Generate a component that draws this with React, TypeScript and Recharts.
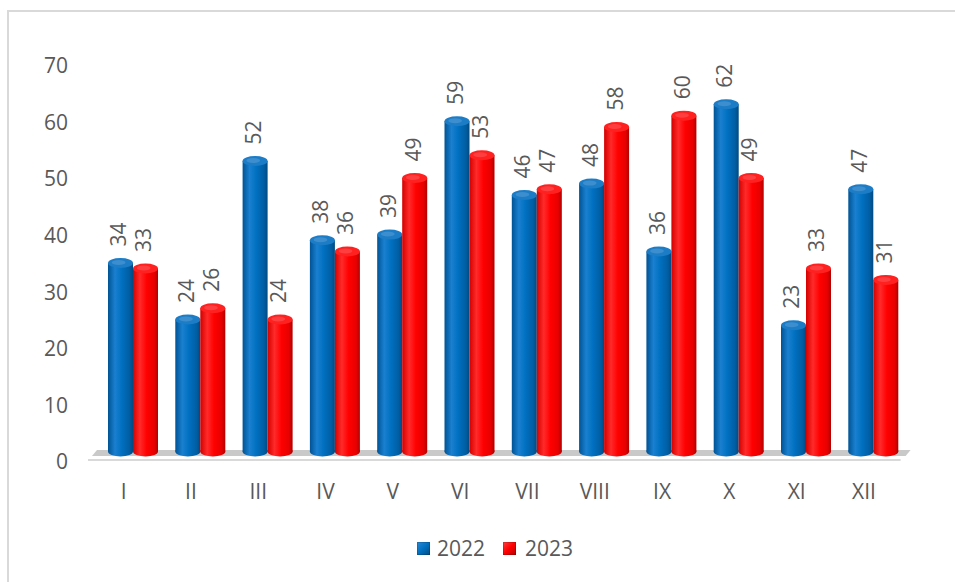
import React from "react";
import { BarChart, Bar, XAxis, YAxis, LabelList, ReferenceArea } from "recharts";

const months = ["I", "II", "III", "IV", "V", "VI", "VII", "VIII", "IX", "X", "XI", "XII"];
const values2022 = [34, 24, 52, 38, 39, 59, 46, 48, 36, 62, 23, 47];
const values2023 = [33, 26, 24, 36, 49, 53, 47, 58, 60, 49, 33, 31];
const yTicks = [0, 10, 20, 30, 40, 50, 60, 70];
const seriesNames = ["2022", "2023"];

const data = months.map((m, i) => ({ month: m, y2022: values2022[i], y2023: values2023[i] }));

const FONT = "'Open Sans', 'Liberation Sans', sans-serif";
const TEXT = "#595959";

const Cylinder = (props: any) => {
  const { x, y, width, height, gradId, capFill } = props;
  if (height == null || width == null) return null;
  const up = 6.5;
  const ry = 5;
  const top = y - up;
  const bottom = y + height - 10.5;
  const cx = x + width / 2;
  const rx = width / 2;
  return (
    <g>
      <ellipse cx={cx} cy={bottom} rx={rx} ry={ry} fill={`url(#${gradId})`} />
      <rect x={x} y={top} width={width} height={Math.max(0, bottom - top)} fill={`url(#${gradId})`} />
      <ellipse cx={cx} cy={top} rx={rx} ry={ry} fill={capFill} />
      <ellipse cx={cx - rx * 0.15} cy={top - 0.5} rx={rx * 0.55} ry={ry * 0.5} fill="#ffffff" opacity={0.14} />
    </g>
  );
};

const ValueLabel = (props: any) => {
  const { x, y, width, value } = props;
  const cx = x + width / 2 - 2;
  const cy = y - 23;
  return (
    <text
      x={cx}
      y={cy}
      transform={`rotate(-90, ${cx}, ${cy})`}
      textAnchor="start"
      dominantBaseline="central"
      fill={TEXT}
      fontSize={21}
      fontFamily={FONT}
    >
      {value}
    </text>
  );
};

const MonthTick = (props: any) => {
  const { x, y, payload } = props;
  return (
    <text x={x - 9} y={y + 29} textAnchor="middle" dominantBaseline="central" fill={TEXT} fontSize={21} fontFamily={FONT}>
      {payload.value}
    </text>
  );
};

const Floor = (props: any) => {
  const { x, y, width, height } = props;
  const L = x;
  const R = x + width;
  const y0 = y + height;
  return (
    <g>
      <polygon
        points={`${L - 2},${y0 - 12} ${R + 4},${y0 - 12} ${R - 1},${y0 - 6} ${L - 7},${y0 - 6}`}
        fill="#c9c9c9"
      />
      <rect x={L - 11} y={y0 - 3} width={R - L + 5} height={2} fill="#d9d9d9" />
    </g>
  );
};

const LegendSquare = ({ gradient }: { gradient: string }) => (
  <span
    style={{
      display: "inline-block",
      width: 13,
      height: 13,
      background: gradient,
      boxShadow: "inset 0 0 0 1px rgba(0,0,0,0.15)",
    }}
  />
);

export default function App() {
  return (
    <div style={{ position: "absolute", left: 0, top: 0, width: 955, height: 582, overflow: "hidden", background: "#fff" }}>
      <div
        style={{
          position: "absolute",
          left: 7,
          top: 10,
          width: 1000,
          height: 1000,
          border: "2px solid #d9d9d9",
          boxSizing: "border-box",
        }}
      />
      <div style={{ position: "absolute", left: 0, top: 0 }}>
        <BarChart
          width={955}
          height={582}
          data={data}
          margin={{ top: 65.5, right: 48.4, left: 0, bottom: 90 }}
          barSize={25}
          barGap={0}
        >
          <defs>
            <linearGradient id="gBlue" x1="0" y1="0" x2="1" y2="0">
              <stop offset="0%" stopColor="#005394" />
              <stop offset="28%" stopColor="#1a80d0" />
              <stop offset="55%" stopColor="#0070c0" />
              <stop offset="85%" stopColor="#005ea3" />
              <stop offset="100%" stopColor="#004a80" />
            </linearGradient>
            <linearGradient id="gRed" x1="0" y1="0" x2="1" y2="0">
              <stop offset="0%" stopColor="#d40000" />
              <stop offset="28%" stopColor="#ff2a2a" />
              <stop offset="55%" stopColor="#ff0000" />
              <stop offset="85%" stopColor="#e80000" />
              <stop offset="100%" stopColor="#b00000" />
            </linearGradient>
          </defs>
          <XAxis
            dataKey="month"
            axisLine={false}
            tickLine={false}
            tickSize={0}
            tickMargin={0}
            height={30}
            interval={0}
            tick={<MonthTick />}
          />
          <YAxis
            domain={[0, 70]}
            ticks={yTicks}
            axisLine={false}
            tickLine={false}
            tickSize={0}
            tickMargin={31}
            width={99}
            tick={{ fill: TEXT, fontSize: 21, fontFamily: FONT }}
          />
          <ReferenceArea y1={0} y2={1} ifOverflow="visible" shape={<Floor />} />
          <Bar
            dataKey="y2022"
            name={seriesNames[0]}
            isAnimationActive={false}
            shape={(p: any) => <Cylinder {...p} gradId="gBlue" capFill="#1c7cc6" />}
          >
            <LabelList dataKey="y2022" content={<ValueLabel />} />
          </Bar>
          <Bar
            dataKey="y2023"
            name={seriesNames[1]}
            isAnimationActive={false}
            shape={(p: any) => <Cylinder {...p} gradId="gRed" capFill="#ff2020" />}
          >
            <LabelList dataKey="y2023" content={<ValueLabel />} />
          </Bar>
        </BarChart>
      </div>
      <div
        style={{
          position: "absolute",
          left: 417,
          top: 534,
          display: "flex",
          alignItems: "center",
          fontFamily: FONT,
          fontSize: 21,
          color: TEXT,
          lineHeight: "28px",
        }}
      >
        <LegendSquare gradient="linear-gradient(135deg, #2a8ad6 0%, #0070c0 50%, #004a80 100%)" />
        <span style={{ marginLeft: 7 }}>{seriesNames[0]}</span>
        <span style={{ marginLeft: 18 }} />
        <LegendSquare gradient="linear-gradient(135deg, #ff4040 0%, #ff0000 50%, #b00000 100%)" />
        <span style={{ marginLeft: 9 }}>{seriesNames[1]}</span>
      </div>
    </div>
  );
}
